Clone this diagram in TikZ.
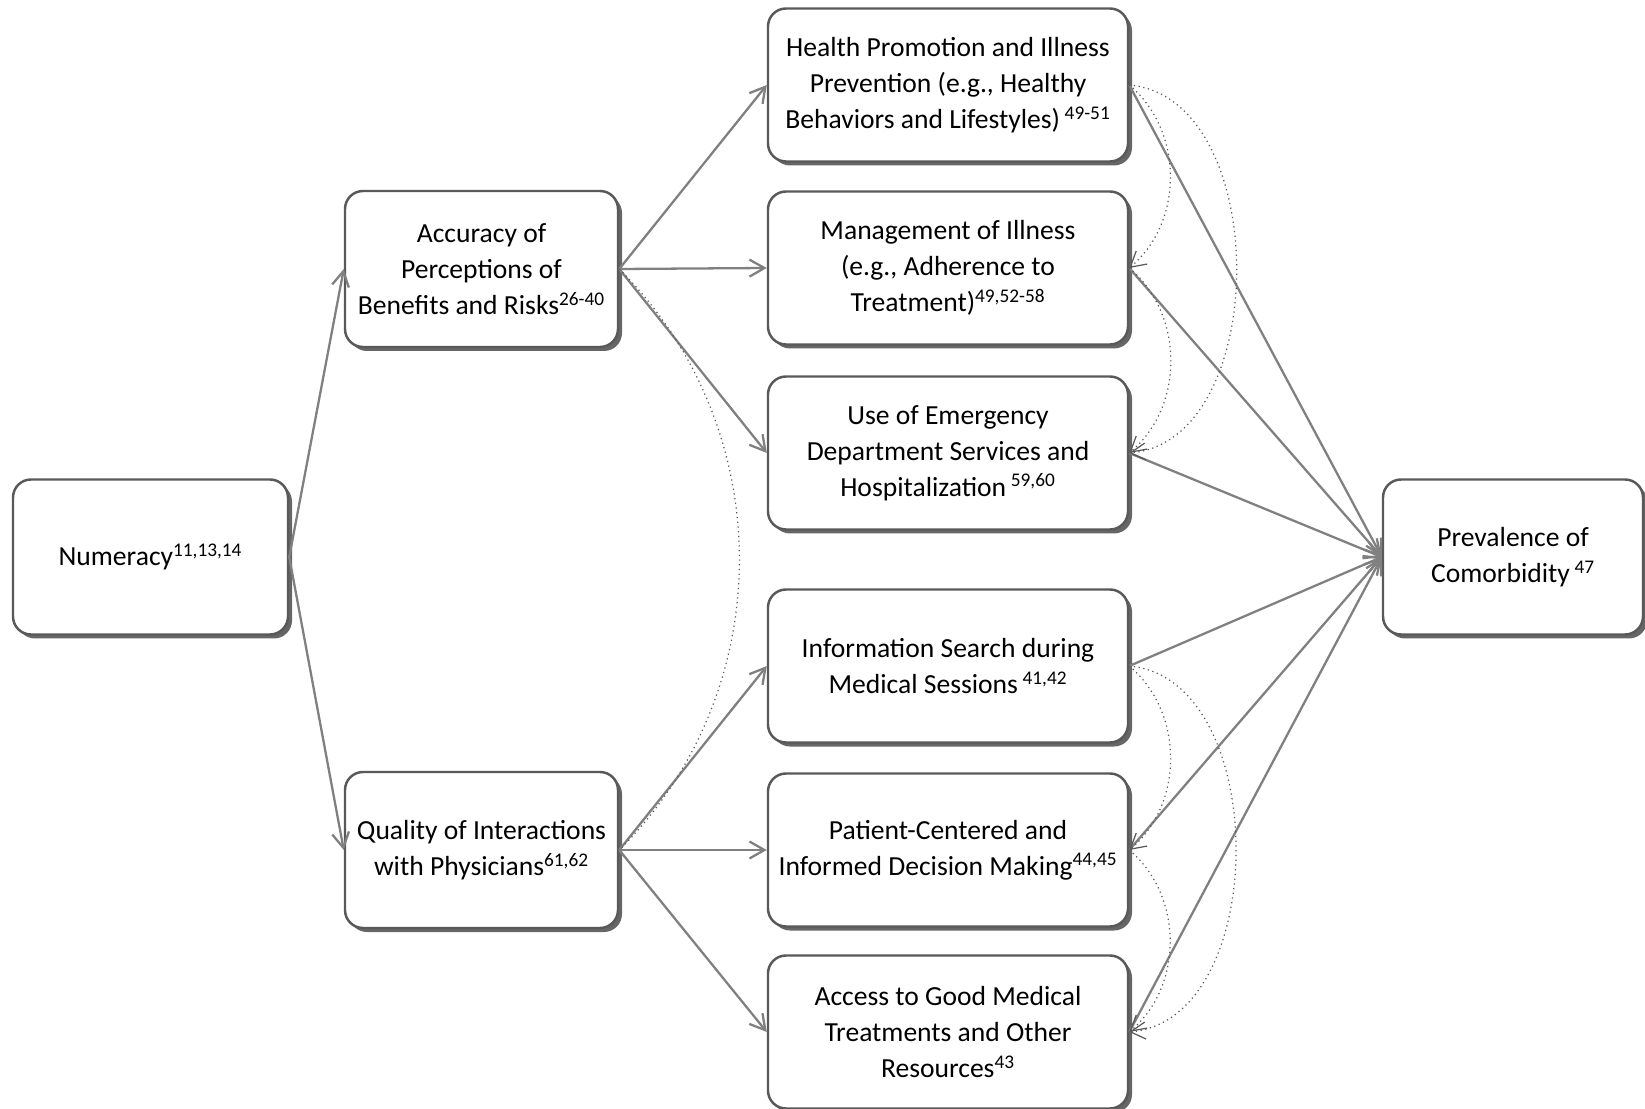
\documentclass[tikz,border=0pt]{standalone}
\usepackage{fontspec}
\setmainfont{Carlito}
\usetikzlibrary{arrows.meta, positioning, shadows}
\def\colx{18.96}

\begin{document}
\begin{tikzpicture}[->, >={Straight Barb[length=0.3cm,width=0.34cm]}, draw=gray, line width=1.3pt]
    \tikzstyle{factor}=[rectangle, rounded corners=0.36cm, draw=black!65, line width=1.4pt, fill=white,
        align=center, inner sep=2pt, font=\fontsize{15.7}{20.4}\selectfont,
        drop shadow={shadow xshift=0.08cm, shadow yshift=-0.08cm, fill=black!80, opacity=0.75}]
    \tikzstyle{middle factor}=[factor, minimum width=5.46cm, minimum height=3.12cm]
    \tikzstyle{outcome}=[factor, minimum width=7.2cm, minimum height=3.06cm]
    \tikzstyle{dotted link}=[dotted, draw=black!65, line width=0.7pt]

    \useasboundingbox (0,0) rectangle (32.9,-22.18);

    % Draw the numeracy and prevalence nodes
    \node[factor, minimum width=5.5cm, minimum height=3.1cm] (num) at (3.01,-11.14) {Numeracy\textsuperscript{11,13,14}};
    \node[factor, minimum width=5.2cm, minimum height=3.1cm] (prev) at (30.26,-11.14) {Prevalence of\\Comorbidity\,\textsuperscript{47}};

    % Draw the middle nodes
    \node[middle factor] (acc) at (9.63,-5.38) {Accuracy of\\Perceptions of\\Benefits and Risks\textsuperscript{26-40}};
    \node[middle factor] (qual) at (9.63,-17.0) {Quality of Interactions\\with Physicians\textsuperscript{61,62}};

    % Draw the outcome nodes
    \foreach \name / \y / \txt in {
        1/1.7/{Health Promotion and Illness\\Prevention (e.g., Healthy\\Behaviors and Lifestyles)\,\textsuperscript{49-51}},
        2/5.36/{Management of Illness\\(e.g., Adherence to\\Treatment)\textsuperscript{49,52-58}},
        3/9.06/{Use of Emergency\\Department Services and\\Hospitalization\,\textsuperscript{59,60}},
        4/13.32/{Information Search during\\Medical Sessions\,\textsuperscript{41,42}},
        5/17.0/{Patient-Centered and\\Informed Decision Making\textsuperscript{44,45}},
        6/20.64/{Access to Good Medical\\Treatments and Other\\Resources\textsuperscript{43}}}
        \node[outcome] (O-\name) at (\colx,-\y) {\txt};

    % Connect numeracy with the middle nodes
    \draw (num.east) -- (acc.west);
    \draw (num.east) -- (qual.west);

    % Connect every middle node with its outcomes
    \foreach \dest in {1,...,3}
        \draw (acc.east) -- (O-\dest.west);
    \foreach \dest in {4,...,6}
        \draw (qual.east) -- (O-\dest.west);

    % Connect every outcome with the prevalence node
    \foreach \source in {1,...,6}
        \draw (O-\source.east) -- (prev.west);

    % Dotted links between outcomes
    \foreach \source / \dest / \bend in {1/2/50, 2/3/50, 1/3/85, 4/5/50, 5/6/50, 4/6/85}
        \draw[dotted link] (O-\source.east) to[bend left=\bend] (O-\dest.east);
    \draw[dotted link, -] (acc.east) to[bend left=45] (qual.east);
\end{tikzpicture}
\end{document}
